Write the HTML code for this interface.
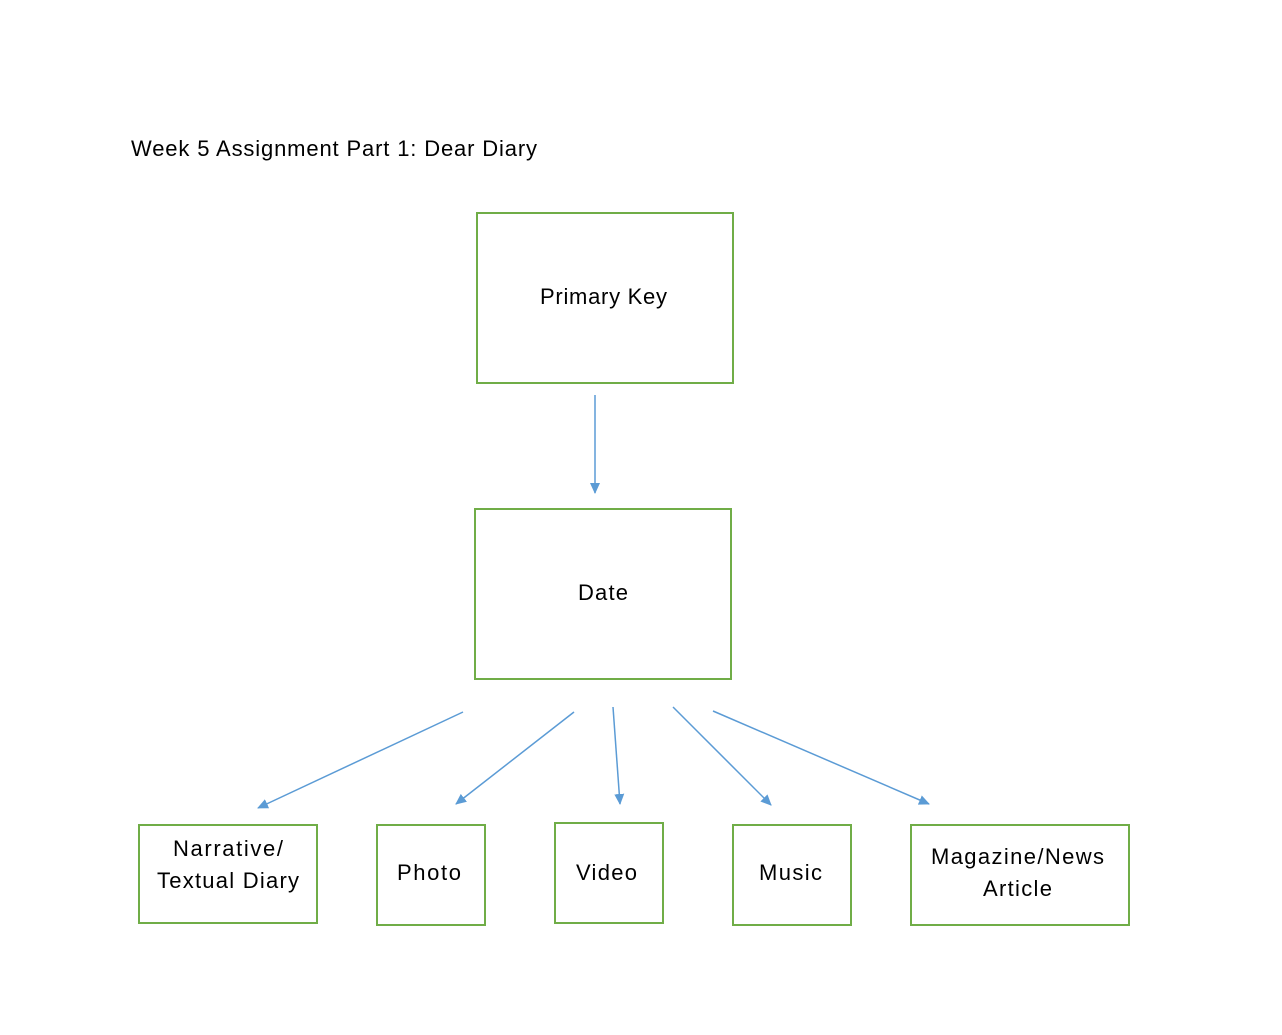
<!DOCTYPE html>
<html><head><style>
body{margin:0;background:#fff;width:1282px;height:1030px;overflow:hidden;font-family:"Liberation Sans",sans-serif;}
</style></head><body>
<svg width="1282" height="1030" xmlns="http://www.w3.org/2000/svg" font-family="Liberation Sans, sans-serif" font-size="22" fill="#000">
<defs><marker id="a" markerWidth="12" markerHeight="12" refX="10" refY="5" orient="auto" markerUnits="userSpaceOnUse"><path d="M0,0 L11,5 L0,10 z" fill="#5b9bd5"/></marker></defs>
<text x="131" y="156" font-size="22" textLength="406" lengthAdjust="spacing">Week 5 Assignment Part 1: Dear Diary</text>
<g fill="none" stroke="#70ad47" stroke-width="2">
<rect x="477" y="213" width="256" height="170"/>
<rect x="475" y="509" width="256" height="170"/>
<rect x="139" y="825" width="178" height="98"/>
<rect x="377" y="825" width="108" height="100"/>
<rect x="555" y="823" width="108" height="100"/>
<rect x="733" y="825" width="118" height="100"/>
<rect x="911" y="825" width="218" height="100"/>
</g>
<g stroke="#5b9bd5" stroke-width="1.5" marker-end="url(#a)">
<line x1="595" y1="395" x2="595" y2="493"/>
<line x1="463" y1="712" x2="258" y2="808"/>
<line x1="574" y1="712" x2="456" y2="804"/>
<line x1="613" y1="707" x2="620" y2="804"/>
<line x1="673" y1="707" x2="771" y2="805"/>
<line x1="713" y1="711" x2="929" y2="804"/>
</g>
<g lengthAdjust="spacing">
<text x="540" y="304" textLength="127" lengthAdjust="spacing">Primary Key</text>
<text x="578" y="600" textLength="50" lengthAdjust="spacing">Date</text>
<text x="173" y="856" textLength="110" lengthAdjust="spacing">Narrative/</text>
<text x="157" y="888" textLength="142" lengthAdjust="spacing">Textual Diary</text>
<text x="397" y="880" textLength="64" lengthAdjust="spacing">Photo</text>
<text x="576" y="880" textLength="61" lengthAdjust="spacing">Video</text>
<text x="759" y="880" textLength="63" lengthAdjust="spacing">Music</text>
<text x="931" y="864" textLength="173" lengthAdjust="spacing">Magazine/News</text>
<text x="983" y="896" textLength="69" lengthAdjust="spacing">Article</text>
</g>
</svg>
</body></html>
